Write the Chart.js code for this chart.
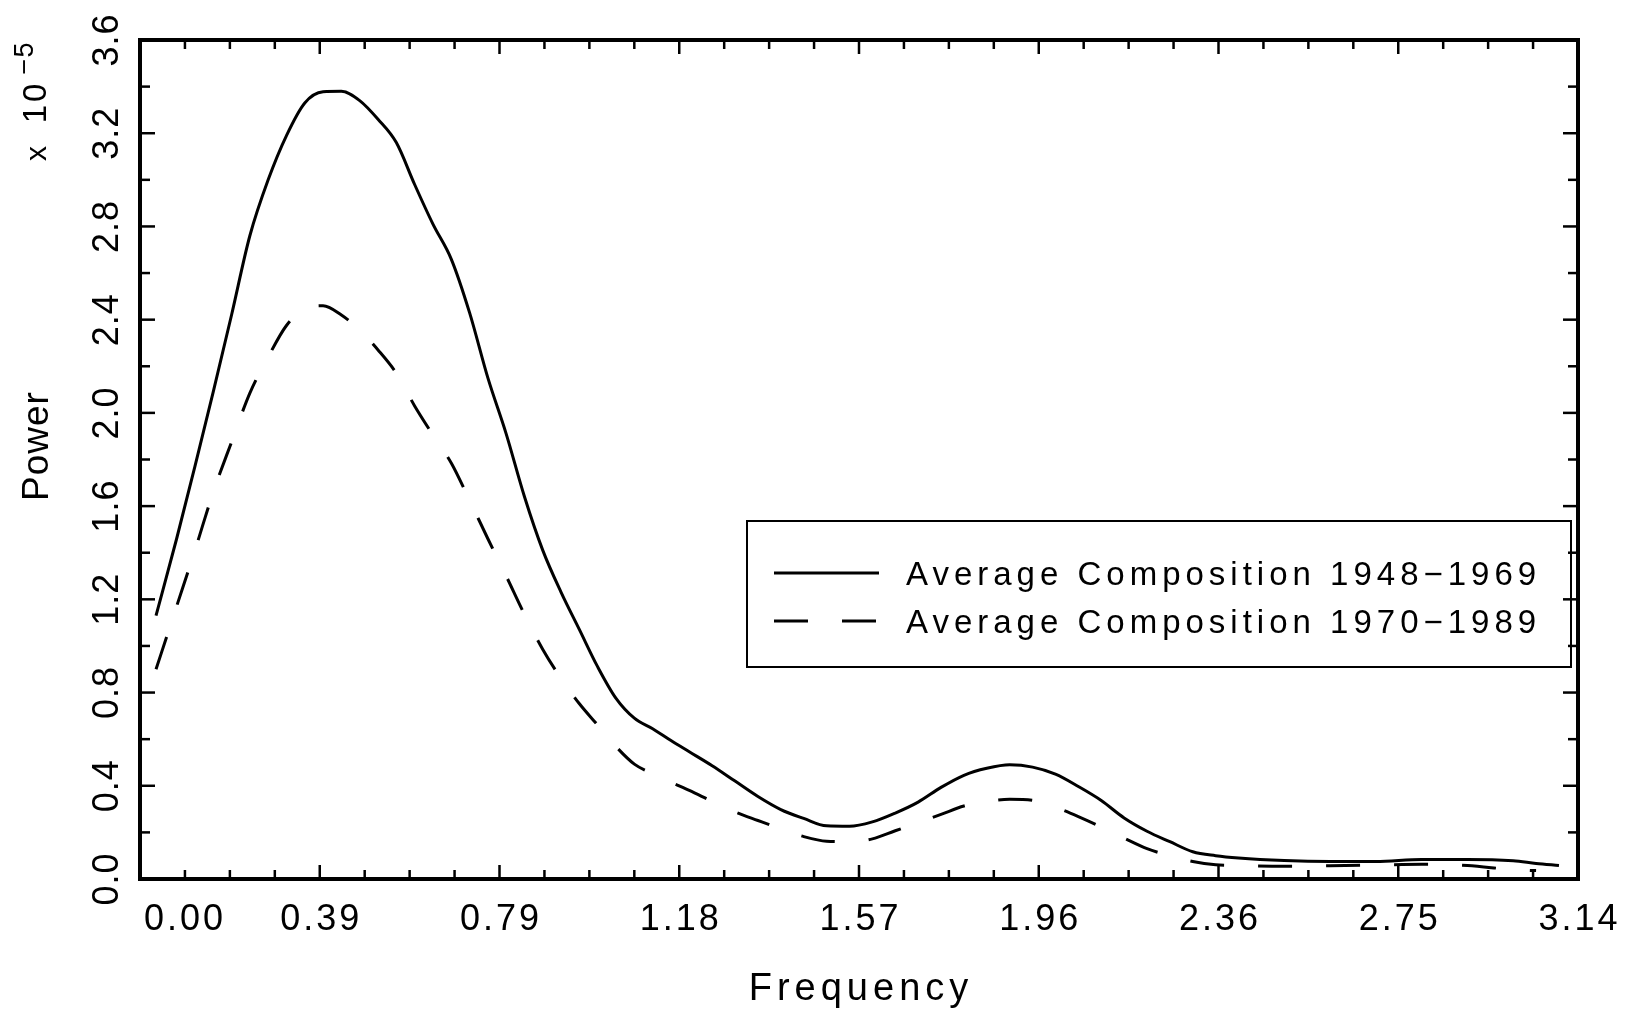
<!DOCTYPE html>
<html>
<head>
<meta charset="utf-8">
<script src="https://cdn.jsdelivr.net/npm/chart.js@4"></script>
<style>
  html, body { margin: 0; padding: 0; background: #fff; }
  #wrap { width: 1626px; height: 1011px; }
</style>
</head>
<body>
<div id="wrap"><canvas id="chart" width="1626" height="1011"></canvas></div>
<script>
// ── data (power in units of 1e-5) ──
const freq = [0.035, 0.08, 0.12, 0.16, 0.20, 0.24, 0.28, 0.32, 0.36, 0.40, 0.44, 0.48, 0.52, 0.56, 0.60,
  0.64, 0.68, 0.72, 0.76, 0.80, 0.84, 0.88, 0.92, 0.96, 1.00, 1.04, 1.08, 1.12, 1.16, 1.20,
  1.25, 1.30, 1.35, 1.40, 1.45, 1.50, 1.55, 1.60, 1.65, 1.70, 1.75, 1.80, 1.85, 1.90, 1.95, 2.00,
  2.05, 2.10, 2.15, 2.20, 2.25, 2.30, 2.35, 2.40, 2.50, 2.60, 2.70, 2.80, 2.90, 3.00, 3.05, 3.10];

const power1948 = [1.13, 1.46, 1.77, 2.09, 2.42, 2.76, 3.00, 3.19, 3.33, 3.378, 3.38, 3.34, 3.26, 3.16, 2.98,
  2.81, 2.66, 2.43, 2.15, 1.91, 1.64, 1.41, 1.23, 1.07, 0.91, 0.775, 0.69, 0.645, 0.594, 0.546,
  0.486, 0.42, 0.354, 0.298, 0.26, 0.228, 0.226, 0.245, 0.283, 0.33, 0.393, 0.445, 0.475, 0.49, 0.48, 0.45,
  0.397, 0.337, 0.262, 0.205, 0.16, 0.117, 0.10, 0.09, 0.079, 0.075, 0.075, 0.084, 0.084, 0.078, 0.067, 0.058];

const power1970 = [0.90, 1.17, 1.41, 1.66, 1.875, 2.085, 2.24, 2.375, 2.447, 2.46, 2.42, 2.355, 2.27, 2.17, 2.03,
  1.905, 1.785, 1.625, 1.46, 1.30, 1.135, 0.985, 0.86, 0.752, 0.66, 0.568, 0.493, 0.452, 0.415, 0.38,
  0.333, 0.288, 0.251, 0.215, 0.182, 0.162, 0.16, 0.172, 0.207, 0.242, 0.277, 0.313, 0.333, 0.342, 0.338, 0.308,
  0.268, 0.223, 0.175, 0.13, 0.10, 0.075, 0.061, 0.058, 0.055, 0.057, 0.06, 0.063, 0.058, 0.04, 0.036, null];

const seriesLabels = ['Average Composition 1948\u22121969', 'Average Composition 1970\u22121989'];
const xTickLabels = ['0.00', '0.39', '0.79', '1.18', '1.57', '1.96', '2.36', '2.75', '3.14'];
const yTickLabels = ['0.0', '0.4', '0.8', '1.2', '1.6', '2.0', '2.4', '2.8', '3.2', '3.6'];

const FONT = '"Liberation Sans", Arial, sans-serif';
const DASH = [34, 34];

const toPoints = vals => freq.map((f, i) => ({ x: f, y: vals[i] }));

// frame, ticks, labels, legend
const framePlugin = {
  id: 'frame',
  afterDatasetsDraw(chart) {
    const { ctx, chartArea: a, scales: { x, y } } = chart;
    const seg = (x1, y1, x2, y2) => { ctx.beginPath(); ctx.moveTo(x1, y1); ctx.lineTo(x2, y2); ctx.stroke(); };
    ctx.save();
    ctx.strokeStyle = '#000';
    ctx.fillStyle = '#000';

    // ticks pointing inward, on all four sides
    ctx.lineWidth = 2.5;
    for (let i = 1; i < 32; i++) {
      const px = x.getPixelForValue(i * Math.PI / 32);
      const len = i % 4 === 0 ? 14 : 9;
      seg(px, a.bottom, px, a.bottom - len);
      seg(px, a.top, px, a.top + len);
    }
    for (let i = 1; i < 18; i++) {
      const py = y.getPixelForValue(i * 0.2);
      const len = i % 2 === 0 ? 15 : 10;
      seg(a.left, py, a.left + len, py);
      seg(a.right, py, a.right - len, py);
    }
    ctx.lineWidth = 4;
    ctx.strokeRect(a.left, a.top, a.right - a.left, a.bottom - a.top);

    // x tick labels
    ctx.font = '36px ' + FONT;
    ctx.letterSpacing = '3px';
    ctx.textBaseline = 'alphabetic';
    xTickLabels.forEach((lab, i) => {
      const px = x.getPixelForValue(i * Math.PI / 8);
      if (i === 0) { ctx.textAlign = 'left'; ctx.fillText(lab, px + 4, a.bottom + 51); }
      else { ctx.textAlign = 'center'; ctx.fillText(lab, px + 1.5, a.bottom + 51); }
    });

    // y tick labels, rotated
    ctx.letterSpacing = '1px';
    yTickLabels.forEach(lab => {
      const py = y.getPixelForValue(parseFloat(lab));
      ctx.save();
      ctx.translate(118, py);
      ctx.rotate(-Math.PI / 2);
      ctx.textAlign = 'center';
      ctx.fillText(lab, 0, 0);
      ctx.restore();
    });

    // axis titles
    ctx.font = '38px ' + FONT;
    ctx.letterSpacing = '5px';
    ctx.textAlign = 'center';
    ctx.fillText('Frequency', (a.left + a.right) / 2 + 2, 1000);

    ctx.save();
    ctx.translate(48, 446);
    ctx.rotate(-Math.PI / 2);
    ctx.font = '37px ' + FONT;
    ctx.letterSpacing = '1px';
    ctx.fillText('Power', 0, 0);
    ctx.restore();

    // scale factor x 10^-5
    ctx.save();
    ctx.translate(46, 0);
    ctx.rotate(-Math.PI / 2);
    ctx.font = '30px ' + FONT;
    ctx.letterSpacing = '3px';
    ctx.fillText('x', -152, 0);
    ctx.font = '33px ' + FONT;
    ctx.fillText('10', -102, 0);
    ctx.font = '27px ' + FONT;
    ctx.letterSpacing = '1px';
    ctx.fillText('\u22125', -58, -13);
    ctx.restore();

    // legend
    const lx = 747, ly = 521, lw = 824, lh = 146;
    ctx.lineWidth = 2;
    ctx.strokeRect(lx, ly, lw, lh);
    ctx.font = '33px ' + FONT;
    ctx.letterSpacing = '5px';
    ctx.textAlign = 'left';
    chart.data.datasets.forEach((ds, i) => {
      const ry = 573 + i * 48;
      ctx.lineWidth = 3;
      ctx.setLineDash(ds.borderDash || []);
      seg(774, ry, 879, ry);
      ctx.setLineDash([]);
      ctx.fillText(ds.label, 906, ry + 12);
    });
    ctx.restore();
  }
};

new Chart(document.getElementById('chart'), {
  type: 'line',
  data: {
    datasets: [
      { label: seriesLabels[0], data: toPoints(power1948), borderColor: '#000', borderWidth: 3,
        pointRadius: 0, cubicInterpolationMode: 'monotone', fill: false },
      { label: seriesLabels[1], data: toPoints(power1970), borderColor: '#000', borderWidth: 3,
        borderDash: DASH, pointRadius: 0, cubicInterpolationMode: 'monotone', fill: false, spanGaps: false }
    ]
  },
  options: {
    responsive: false,
    animation: false,
    devicePixelRatio: 1,
    layout: { padding: { left: 140, right: 48, top: 40, bottom: 132 } },
    plugins: { legend: { display: false }, tooltip: { enabled: false } },
    scales: {
      x: { type: 'linear', min: 0, max: Math.PI, display: false },
      y: { type: 'linear', min: 0, max: 3.6, display: false }
    }
  },
  plugins: [framePlugin]
});
</script>
</body>
</html>
